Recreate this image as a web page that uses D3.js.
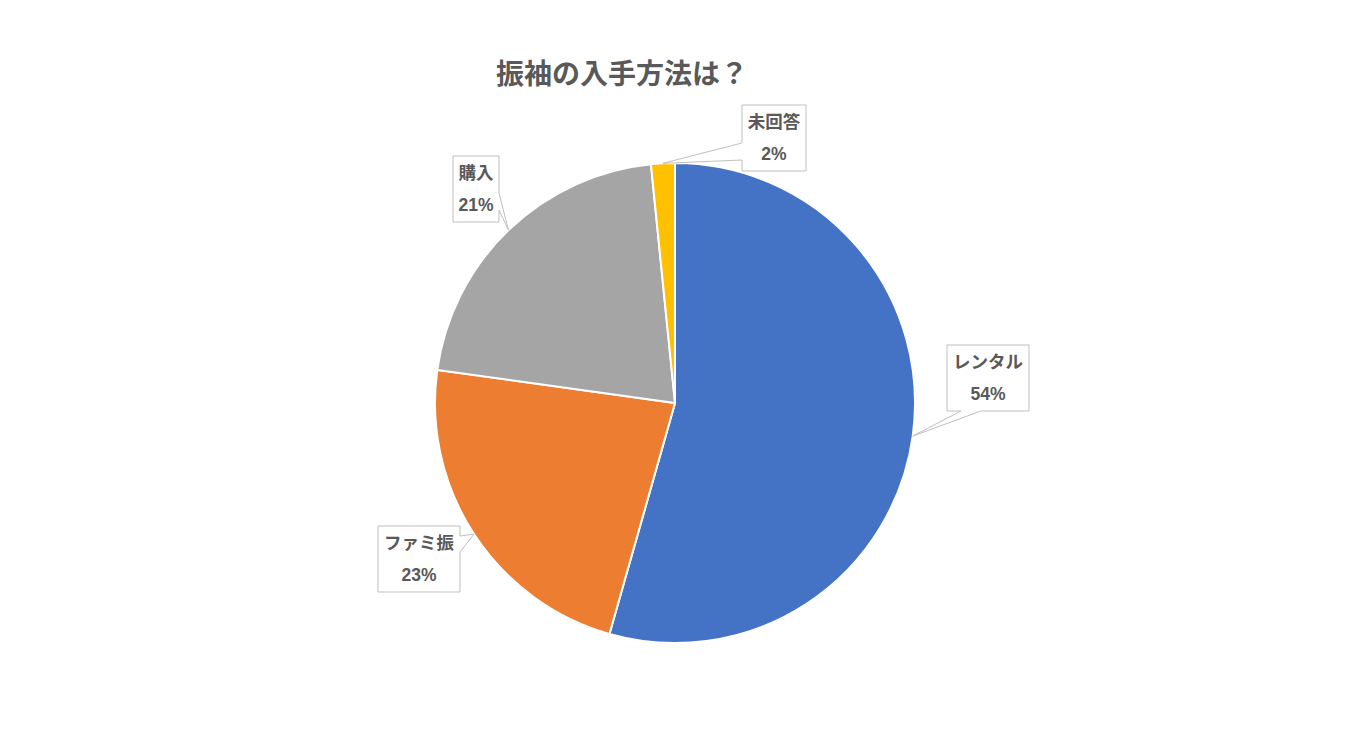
<!DOCTYPE html>
<html>
<head>
<meta charset="utf-8">
<script src="https://cdn.jsdelivr.net/npm/d3@7"></script>
<style>
  body { margin: 0; background: #fff; }
  text { font-family: "Liberation Sans", "Noto Sans CJK JP", sans-serif; fill: #595959; font-weight: bold; }
</style>
</head>
<body>
<script>
// data (share of answers, %)
var categories = ["レンタル", "ファミ振", "購入", "未回答"];
var values = [54.4, 22.8, 21.2, 1.6];
var colours = ["#4472C4", "#ED7D31", "#A5A5A5", "#FFC000"];

// callout boxes: centre, size, side of the pointer and where its base sits on that side
var callouts = [
    { cx: 988, cy: 378, w: 82, h: 66, side: "bottom", b0: 14, b1: 34 },
    { cx: 419, cy: 559, w: 82, h: 66, side: "right",  b0: 10, b1: 26 },
    { cx: 476, cy: 189, w: 46, h: 66, side: "right",  b0: 37, b1: 54 },
    { cx: 774, cy: 138, w: 64, h: 66, side: "left",   b0: 38, b1: 55 }
];

window.onload = function(){
    drawPie();
};

function drawPie(){
    var width = 1349, height = 732;
    var svg = d3.select("body").append("svg").attr("width", width).attr("height", height);

    var cx = 675, cy = 403, radius = 240;

    // title
    svg.append("text")
        .attr("x", 622)
        .attr("y", 84)
        .attr("text-anchor", "middle")
        .style("font-size", "28px")
        .text("振袖の入手方法は？");

    var g = svg.append("g").attr("transform", "translate(" + cx + "," + cy + ")");

    var pie = d3.pie().sort(null).value(function(d) { return d; });
    var arcs = pie(values);
    var arc = d3.arc().innerRadius(0).outerRadius(radius);

    g.selectAll(".slice")
        .data(arcs)
        .enter()
        .append("path")
        .attr("class", "slice")
        .attr("d", arc)
        .attr("fill", function(d, i) { return colours[i]; })
        .attr("stroke", "#fff")
        .attr("stroke-width", 2);

    var total = d3.sum(values);

    // callouts with a wedge pointing to the middle of each slice's rim
    arcs.forEach(function(d, i) {
        var c = callouts[i];
        var mid = (d.startAngle + d.endAngle) / 2;
        var tx = cx + radius * Math.sin(mid);
        var ty = cy - radius * Math.cos(mid);
        var x0 = c.cx - c.w / 2, y0 = c.cy - c.h / 2, x1 = x0 + c.w, y1 = y0 + c.h;

        var p = d3.path();
        p.moveTo(x0, y0);
        p.lineTo(x1, y0);
        if (c.side === "right") {
            p.lineTo(x1, y0 + c.b0); p.lineTo(tx, ty); p.lineTo(x1, y0 + c.b1);
        }
        p.lineTo(x1, y1);
        if (c.side === "bottom") {
            p.lineTo(x0 + c.b1, y1); p.lineTo(tx, ty); p.lineTo(x0 + c.b0, y1);
        }
        p.lineTo(x0, y1);
        if (c.side === "left") {
            p.lineTo(x0, y0 + c.b1); p.lineTo(tx, ty); p.lineTo(x0, y0 + c.b0);
        }
        p.closePath();

        svg.append("path")
            .attr("d", p.toString())
            .attr("fill", "#fff")
            .attr("stroke", "#BFBFBF")
            .attr("stroke-width", 1);

        svg.append("text")
            .attr("x", c.cx)
            .attr("y", c.cy - 16)
            .attr("dy", "0.36em")
            .attr("text-anchor", "middle")
            .style("font-size", "17.5px")
            .text(categories[i]);

        svg.append("text")
            .attr("x", c.cx)
            .attr("y", c.cy + 16)
            .attr("dy", "0.36em")
            .attr("text-anchor", "middle")
            .style("font-size", "17.5px")
            .text(Math.round(d.data / total * 100) + "%");
    });
}
</script>
</body>
</html>
